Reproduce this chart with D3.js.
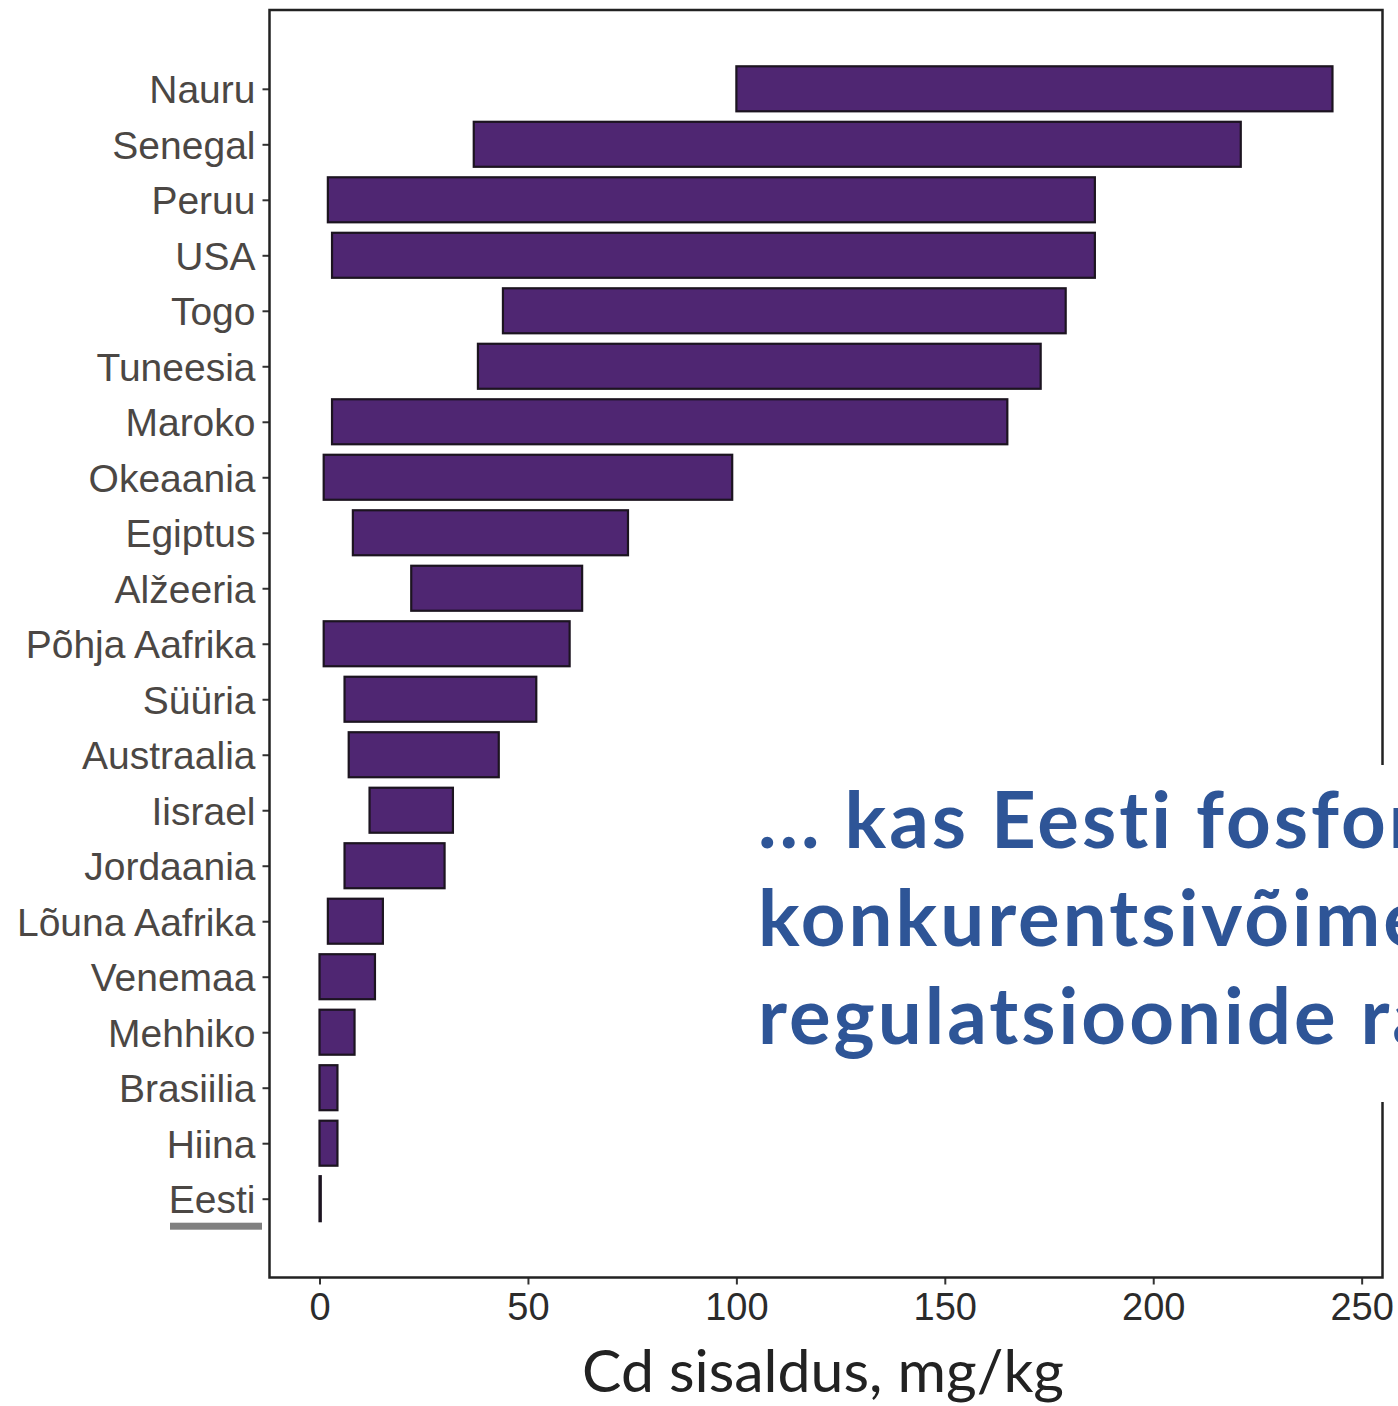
<!DOCTYPE html>
<html>
<head>
<meta charset="utf-8">
<script src="https://cdn.jsdelivr.net/npm/d3@7"></script>
<style>
  body { margin: 0; background: #fff; }
  svg { display: block; }
</style>
</head>
<body>
<svg id="chart"></svg>
<script>
// countries top to bottom, with Cd range (min, max) in mg/kg
var countries = ["Nauru", "Senegal", "Peruu", "USA", "Togo", "Tuneesia", "Maroko",
  "Okeaania", "Egiptus", "Alžeeria", "Põhja Aafrika", "Süüria", "Austraalia",
  "Iisrael", "Jordaania", "Lõuna Aafrika", "Venemaa", "Mehhiko", "Brasiilia",
  "Hiina", "Eesti"];
var cdMin = [100, 37, 2, 3, 44, 38, 3, 1, 8, 22, 1, 6, 7, 12, 6, 2, 0, 0, 0, 0, 0];
var cdMax = [243, 221, 186, 186, 179, 173, 165, 99, 74, 63, 60, 52, 43, 32, 30, 15.2, 13.3, 8.4, 4.3, 4.3, 0.3];
var xTicks = [0, 50, 100, 150, 200, 250];
var xTitle = "Cd sisaldus, mg/kg";
var overlayLines = ["... kas Eesti fosforiit", "konkurentsivõime", "regulatsioonide raames"];

(function () {
  var width = 1398, height = 1406;
  var left = 269.5, right = 1382.5, top = 10, bottom = 1277.5;
  var barHeight = 45;

  var svg = d3.select("#chart")
    .attr("width", width)
    .attr("height", height);

  svg.append("rect")
    .attr("width", width).attr("height", height)
    .attr("fill", "#fff");

  var x = d3.scaleLinear().domain([-12, 255]).range([left, right]);
  var y = d3.scalePoint().domain(countries).range([top, bottom]).padding(1.42);

  var rows = countries.map(function (c, i) {
    return { name: c, lo: cdMin[i], hi: cdMax[i] };
  });

  // bars
  svg.append("g").selectAll("rect")
    .data(rows)
    .enter().append("rect")
    .attr("x", function (d) { return x(d.lo); })
    .attr("y", function (d) { return y(d.name) - barHeight / 2; })
    .attr("width", function (d) { return Math.max(0, x(d.hi) - x(d.lo)); })
    .attr("height", barHeight)
    .attr("fill", "#4f2672")
    .attr("stroke", "#1c1420")
    .attr("stroke-width", 2.2);

  // y axis
  var yAxis = svg.append("g")
    .attr("transform", "translate(" + left + ",0)")
    .call(d3.axisLeft(y).tickSize(7).tickPadding(7));
  yAxis.select(".domain").remove();
  yAxis.selectAll(".tick line").attr("stroke", "#333").attr("stroke-width", 2);
  yAxis.selectAll(".tick text")
    .attr("font-family", "'Liberation Sans', Arial, sans-serif")
    .attr("font-size", 39)
    .attr("fill", "#4b4744")
    .attr("dy", "0.36em");

  // underline under Eesti
  svg.append("rect")
    .attr("x", 170).attr("y", y("Eesti") + 24)
    .attr("width", 92).attr("height", 7)
    .attr("fill", "#808080");

  // x axis
  var xAxis = svg.append("g")
    .attr("transform", "translate(0," + bottom + ")")
    .call(d3.axisBottom(x).tickValues(xTicks).tickSize(7).tickPadding(6));
  xAxis.select(".domain").remove();
  xAxis.selectAll(".tick line").attr("stroke", "#333").attr("stroke-width", 2);
  xAxis.selectAll(".tick text")
    .attr("font-family", "'Liberation Sans', Arial, sans-serif")
    .attr("font-size", 38)
    .attr("fill", "#2b2b2b")
    .attr("dy", "0.78em");

  // panel border
  svg.append("rect")
    .attr("x", left).attr("y", top)
    .attr("width", right - left).attr("height", bottom - top)
    .attr("fill", "none")
    .attr("stroke", "#222")
    .attr("stroke-width", 2.5);

  svg.append("text")
    .attr("x", 823).attr("y", 1392)
    .attr("text-anchor", "middle")
    .attr("font-family", "Lato, 'Open Sans', sans-serif")
    .attr("font-size", 59)
    .attr("fill", "#222")
    .text(xTitle);

  // overlay note
  svg.append("rect")
    .attr("x", 745).attr("y", 765)
    .attr("width", width - 745).attr("height", 337)
    .attr("fill", "#fff");

  svg.append("g").selectAll("text")
    .data(overlayLines)
    .enter().append("text")
    .attr("x", 758)
    .attr("y", function (d, i) { return 848 + i * 98; })
    .attr("font-family", "Lato, 'Open Sans', sans-serif")
    .attr("font-weight", "bold")
    .attr("font-size", 78)
    .attr("letter-spacing", 3)
    .style("font-variant-ligatures", "none")
    .attr("fill", "#2e5597")
    .text(function (d) { return d; });
}());
</script>
</body>
</html>
